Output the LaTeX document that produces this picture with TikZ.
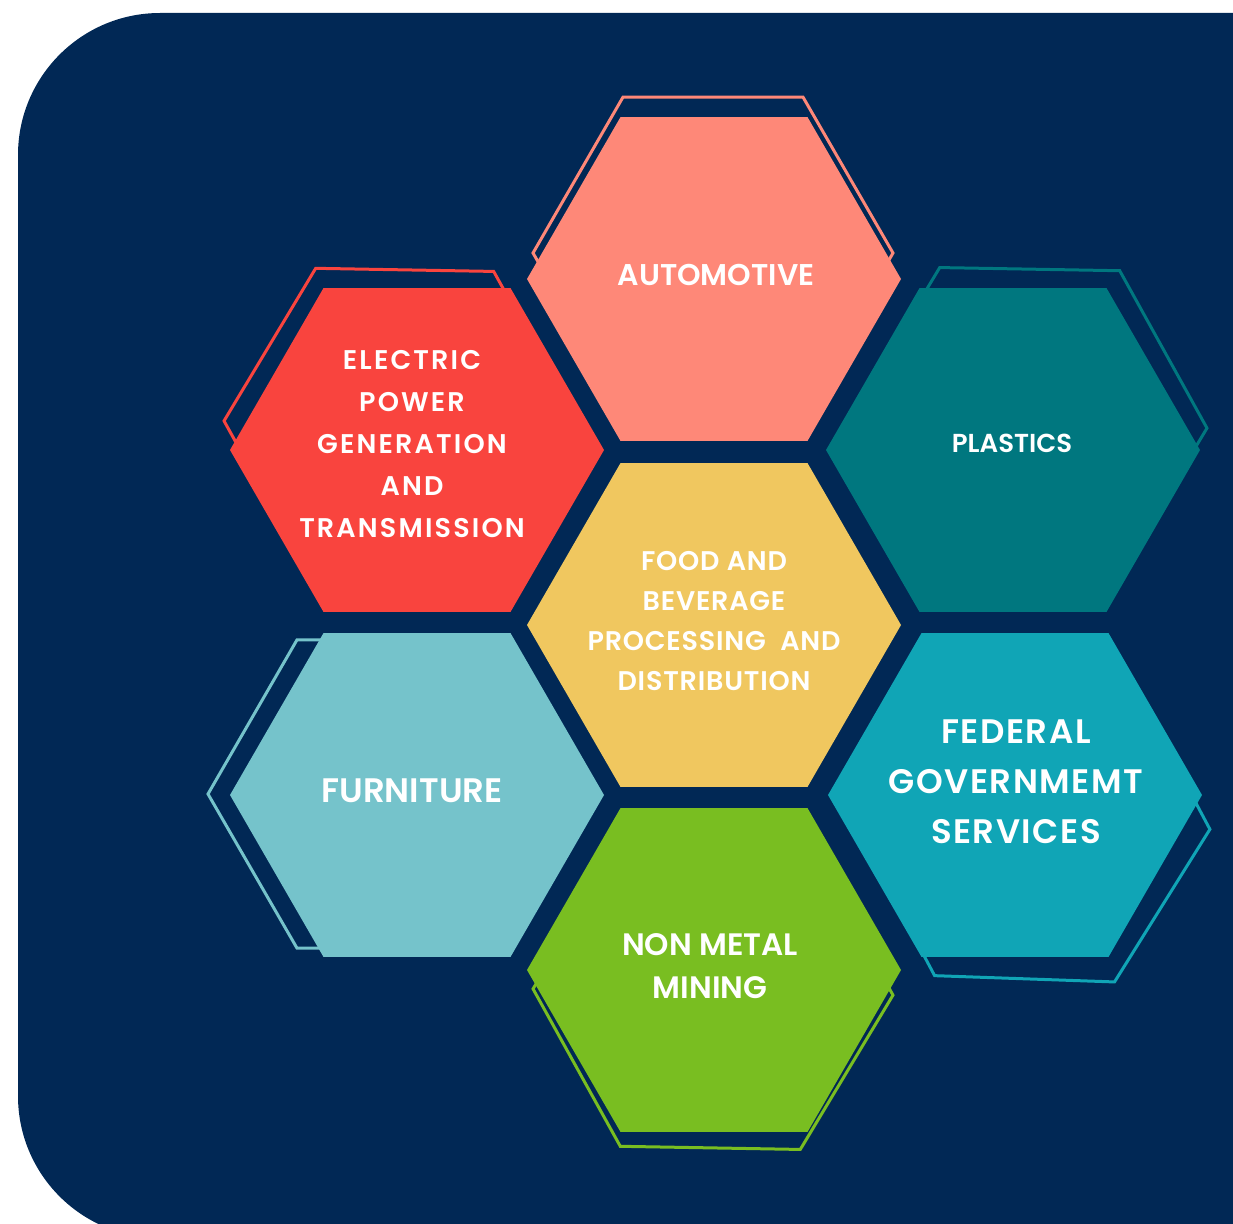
\documentclass[tikz,border=0pt]{standalone}
\usepackage{fontspec}
\newfontfamily\hexfont{Poppins SemiBold}
\usetikzlibrary{shapes.geometric}
\definecolor{navy}{HTML}{012855}
\definecolor{autocol}{HTML}{FE8878}
\definecolor{powercol}{HTML}{F9443E}
\definecolor{plastcol}{HTML}{00777F}
\definecolor{foodcol}{HTML}{F0C75F}
\definecolor{furncol}{HTML}{75C3CB}
\definecolor{fedcol}{HTML}{10A5B6}
\definecolor{minecol}{HTML}{79BE21}
\begin{document}
\begin{tikzpicture}[x=1pt,y=-1pt,
    hexfill/.style={regular polygon,regular polygon sides=6,minimum size=374pt,inner sep=0pt,outer sep=0pt},
    hexline/.style={regular polygon,regular polygon sides=6,inner sep=0pt,line width=3pt},
    hextext/.style={text=white,align=center,inner sep=0pt}]
    \clip (0,0) rectangle (1233,1223);
    \fill[navy,rounded corners=142pt] (18,13) rectangle (1600,1238);
    %
    \node[hexline,draw=autocol,minimum size=360pt] (autoline) at (713,253) {};
    \node[hexline,draw=powercol,minimum size=356pt,shape border rotate=-1] (powerline) at (402,424) {};
    \node[hexline,draw=plastcol,minimum size=360pt,shape border rotate=-1] (plastline) at (1027,425) {};
    \node[hexline,draw=furncol,minimum size=356pt] (furnline) at (386,794) {};
    \node[hexline,draw=fedcol,minimum size=360pt,shape border rotate=-2] (fedline) at (1030,823) {};
    \node[hexline,draw=minecol,minimum size=360pt,shape border rotate=-1] (mineline) at (713,992) {};
    %
    \node[hexfill,fill=autocol] (auto) at (714,279) {};
    \node[hexfill,fill=powercol] (power) at (417,450) {};
    \node[hexfill,fill=plastcol] (plast) at (1013,450) {};
    \node[hexfill,fill=foodcol] (food) at (714,625) {};
    \node[hexfill,fill=furncol] (furn) at (417,795) {};
    \node[hexfill,fill=fedcol] (fed) at (1015,795) {};
    \node[hexfill,fill=minecol] (mine) at (714,970) {};
    %
    \node[hextext,font=\hexfont\fontsize{30}{36}\selectfont] (autotext) at (716,274.5) {AUTOMOTIVE};
    \node[hextext,font=\hexfont\addfontfeature{LetterSpace=8}\fontsize{27}{42}\selectfont] (powertext) at (412,444) {ELECTRIC\\POWER\\GENERATION\\AND\\TRANSMISSION};
    \node[hextext,font=\hexfont\fontsize{26}{34}\selectfont] (plasttext) at (1012,443) {PLASTICS};
    \node[hextext,font=\hexfont\addfontfeature{LetterSpace=3}\fontsize{27}{40}\selectfont] (foodtext) at (714,621) {FOOD AND\\BEVERAGE\\PROCESSING~ AND\\DISTRIBUTION};
    \node[hextext,font=\hexfont\fontsize{34}{40}\selectfont] (furntext) at (412,790.5) {FURNITURE};
    \node[hextext,font=\hexfont\addfontfeature{LetterSpace=4.5}\fontsize{34}{50}\selectfont] (fedtext) at (1016,782) {FEDERAL\\GOVERNMEMT\\SERVICES};
    \node[hextext,font=\hexfont\fontsize{31}{43}\selectfont] (minetext) at (710,966) {NON METAL\\MINING};
\end{tikzpicture}
\end{document}
